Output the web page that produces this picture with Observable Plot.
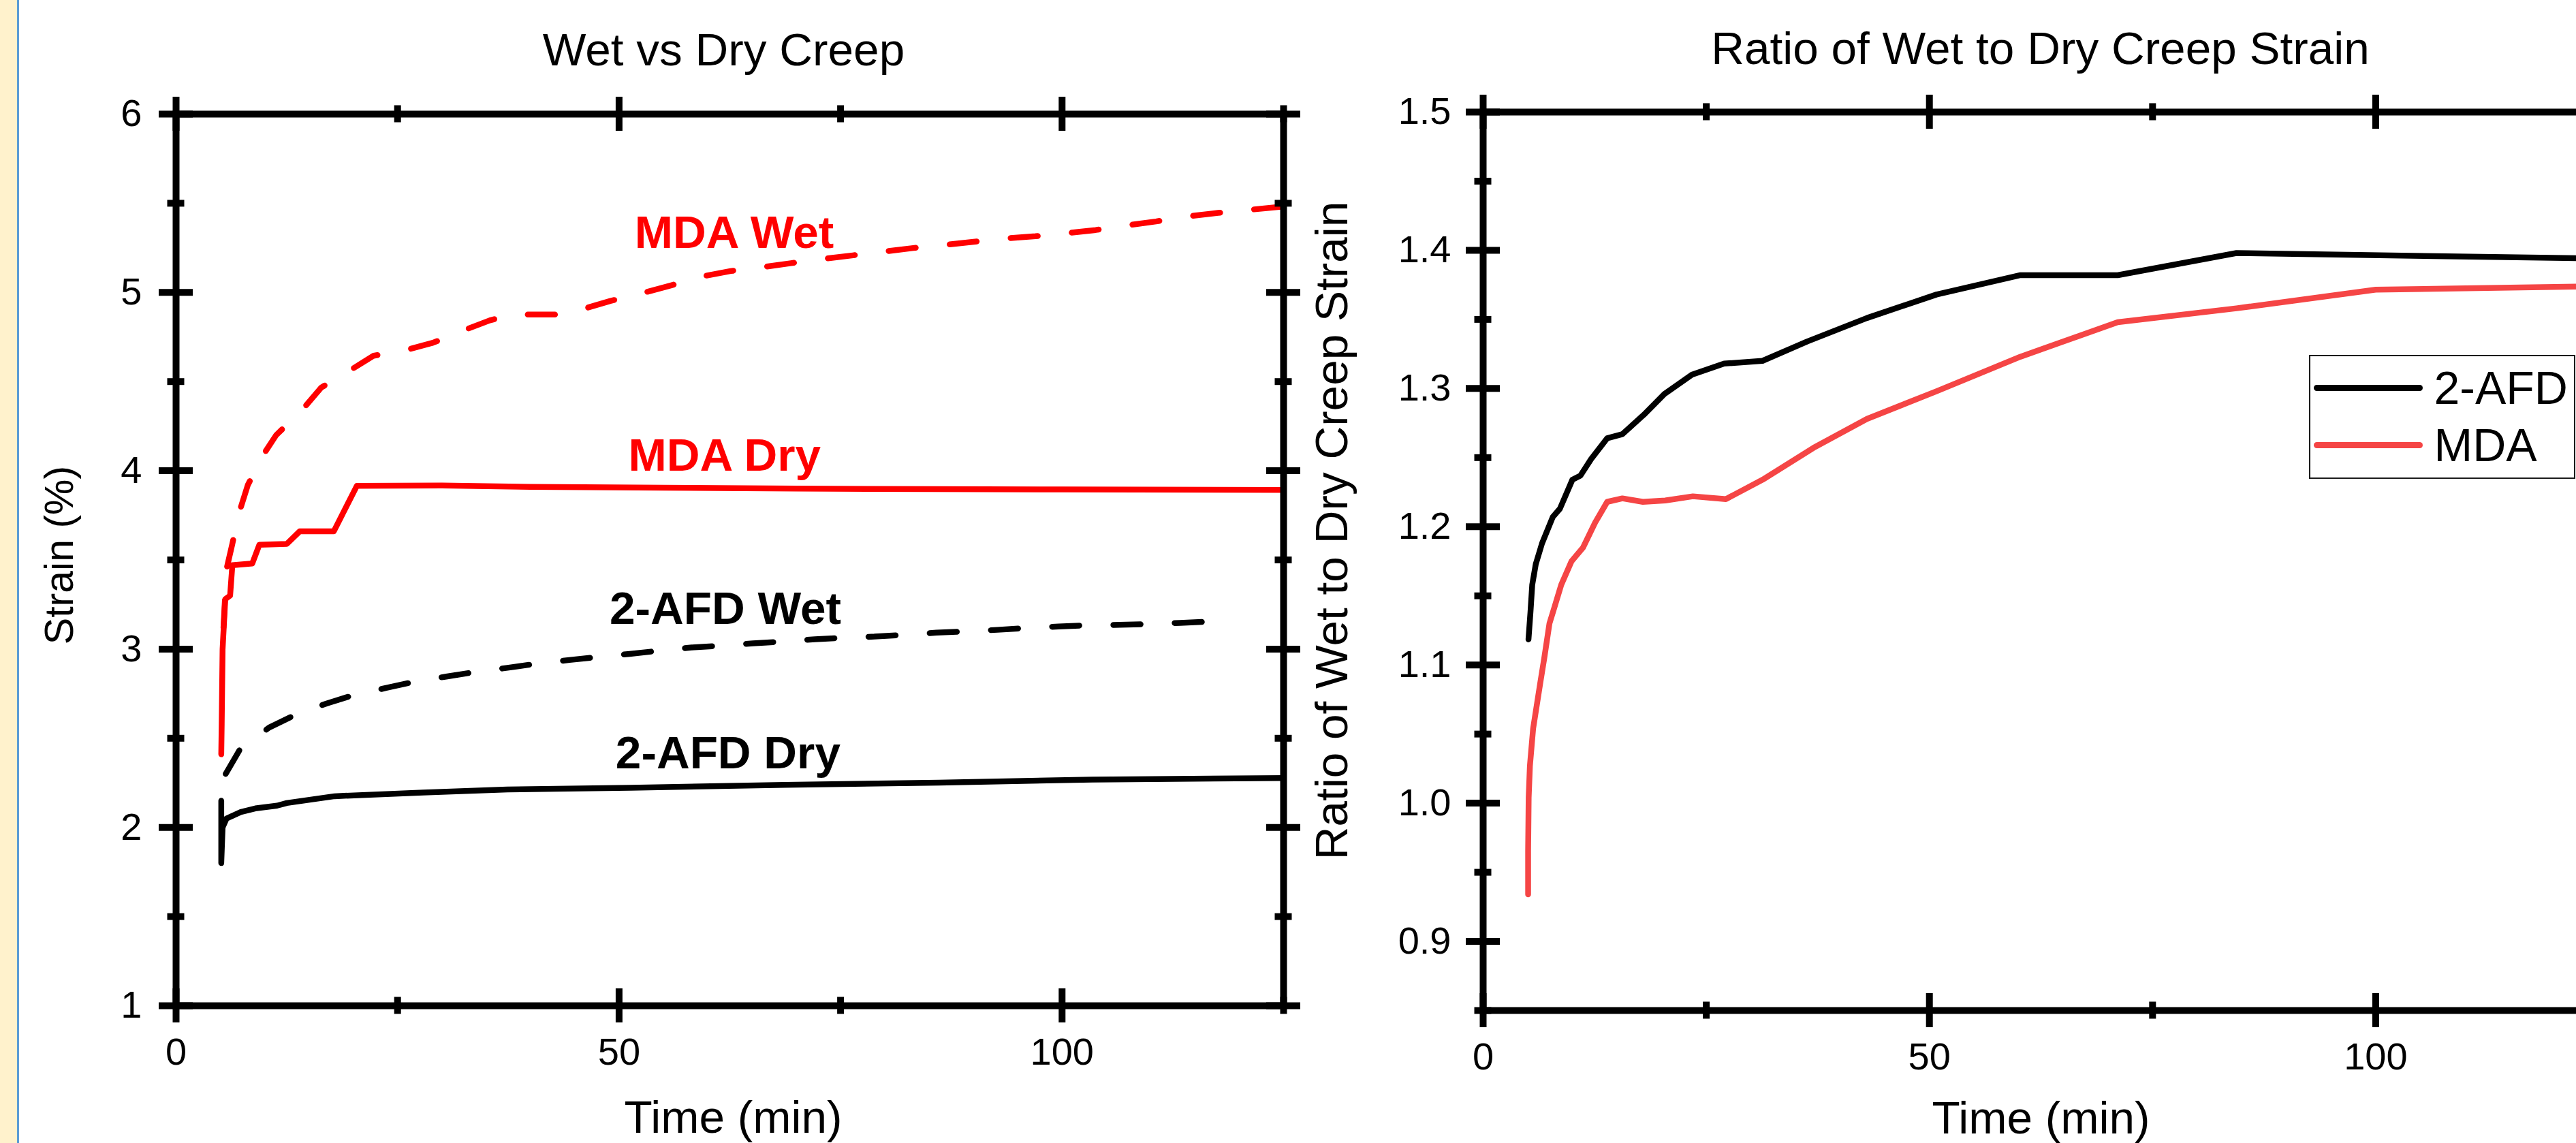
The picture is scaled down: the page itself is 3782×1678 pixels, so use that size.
<!DOCTYPE html>
<html>
<head>
<meta charset="utf-8">
<script src="https://cdn.jsdelivr.net/npm/d3@7"></script>
<script src="https://cdn.jsdelivr.net/npm/@observablehq/plot@0.6"></script>
<style>
  html, body { margin: 0; padding: 0; width: 3782px; height: 1678px; overflow: hidden; background: #ffffff; }
  body { position: relative; font-family: "Liberation Sans", Arial, sans-serif; }
  #strip { position: absolute; left: 0; top: 0; width: 25px; height: 1678px; background: #FFF2CC; z-index: 5; }
  #stripLine { position: absolute; left: 25px; top: 0; width: 3px; height: 1678px; background: #5B9BD5; z-index: 5; }
  #left { position: absolute; left: 0; top: 0; }
  #right { position: absolute; left: 1950px; top: 0; }
  #legend { position: absolute; left: 3390px; top: 521px; width: 391px; height: 182px; box-sizing: border-box;
            border: 2.5px solid #1a1a1a; background: #ffffff; z-index: 4; }
  .lg-line { position: absolute; width: 160px; height: 9px; border-radius: 4.5px; }
  .lg-text { position: absolute; font-size: 68px; line-height: 68px; color: #000; white-space: nowrap; }
</style>
</head>
<body>
<div id="strip"></div><div id="stripLine"></div>
<div id="left"></div>
<div id="right"></div>
<div id="legend"></div>
<script>
// ---------- axes / ticks ----------
const timeDomain = [0, 125];
const strainDomain = [1, 6];
const ratioDomain = [0.85, 1.5];
const timeTicksMajor = [0, 50, 100];
const timeTicksMinor = [25, 75, 125];
const strainTicksMajor = [1, 2, 3, 4, 5, 6];
const strainTicksMinor = [1.5, 2.5, 3.5, 4.5, 5.5];
const ratioTicksMajor = [0.9, 1.0, 1.1, 1.2, 1.3, 1.4, 1.5];
const ratioTicksMinor = [0.85, 0.95, 1.05, 1.15, 1.25, 1.35, 1.45];

const leftTitle = "Wet vs Dry Creep";
const rightTitle = "Ratio of Wet to Dry Creep Strain";
const xLabel = "Time (min)";
const leftYLabel = "Strain (%)";
const rightYLabel = "Ratio of Wet to Dry Creep Strain";

// ---------- left panel series (time, strain %) ----------
const mdaWetT = [5.35, 5.7, 6.35, 7.15, 8.1, 9.85, 11.3, 14.3, 16.4, 19.6, 22.3, 26.2, 29.0, 32.6, 35.4, 37.8, 43.5, 46.0, 49.0, 52.6, 55.9, 59.4, 62.6, 66.2, 69.4, 73.2, 76.4, 80.0, 83.2, 86.7, 90.0, 93.7, 97.0, 100.5, 103.8, 107.3, 110.6, 114.3, 117.6, 121.3, 125];
const mdaWetV = [3.12, 3.45, 3.59, 3.77, 3.92, 4.09, 4.20, 4.345, 4.467, 4.562, 4.645, 4.68, 4.718, 4.79, 4.843, 4.876, 4.876, 4.908, 4.952, 4.996, 5.04, 5.09, 5.12, 5.142, 5.164, 5.189, 5.208, 5.23, 5.249, 5.266, 5.284, 5.303, 5.315, 5.332, 5.35, 5.376, 5.398, 5.427, 5.446, 5.464, 5.482];

const mdaDryT = [5.1, 5.15, 5.25, 5.55, 6.1, 6.35, 8.6, 9.4, 12.5, 13.95, 17.8, 20.4, 30, 40, 55, 70, 85, 100, 125];
const mdaDryV = [2.41, 2.58, 3.0, 3.28, 3.30, 3.47, 3.48, 3.585, 3.59, 3.66, 3.66, 3.915, 3.917, 3.91, 3.905, 3.90, 3.897, 3.895, 3.892];

const afdWetT = [5.6, 7.2, 10.5, 13.4, 17.0, 20.1, 23.8, 26.9, 30.5, 33.7, 37.4, 40.4, 44.4, 47.4, 51.2, 54.2, 58.2, 61.2, 65.1, 68.1, 72.1, 75.1, 78.8, 81.8, 85.8, 88.8, 92.7, 95.7, 99.6, 102.6, 106.5, 109.5, 113.3, 116.3, 119.5];
const afdWetV = [2.30, 2.437, 2.56, 2.63, 2.695, 2.743, 2.783, 2.817, 2.846, 2.871, 2.895, 2.916, 2.939, 2.954, 2.973, 2.989, 3.009, 3.018, 3.032, 3.041, 3.055, 3.063, 3.07, 3.079, 3.092, 3.098, 3.108, 3.117, 3.127, 3.133, 3.136, 3.14, 3.147, 3.153, 3.158];

const afdDryT = [5.1, 5.1, 5.25, 5.7, 7.3, 9.1, 11.4, 12.5, 17.9, 27.9, 37.4, 51.3, 68.7, 86.1, 103.4, 125];
const afdDryV = [2.15, 1.80, 2.0, 2.05, 2.086, 2.108, 2.122, 2.137, 2.175, 2.196, 2.213, 2.222, 2.239, 2.251, 2.268, 2.277];

// in-plot labels (name, time, strain at baseline)
const labelNames = ["MDA Wet", "MDA Dry", "2-AFD Wet", "2-AFD Dry"];
const labelT = [63.0, 61.9, 62.0, 62.3];
const labelV = [5.25, 4.0, 3.14, 2.33];
const labelColors = ["#ff0000", "#ff0000", "#000000", "#000000"];

// ---------- right panel series (time, ratio) ----------
const ratioAfdT = [5.08, 5.3, 5.5, 5.9, 6.6, 7.8, 8.6, 10.0, 10.9, 12.1, 13.9, 15.6, 18.0, 20.3, 23.4, 27.0, 31.3, 36.3, 43.0, 50.8, 60.2, 71.1, 84.4, 125];
const ratioAfdV = [1.1185, 1.138, 1.158, 1.173, 1.188, 1.207, 1.213, 1.234, 1.237, 1.249, 1.264, 1.267, 1.281, 1.296, 1.310, 1.318, 1.320, 1.334, 1.351, 1.368, 1.382, 1.382, 1.398, 1.394];

const ratioMdaT = [5.04, 5.04, 5.1, 5.24, 5.6, 6.4, 6.85, 7.43, 8.0, 8.75, 9.9, 11.2, 12.55, 13.9, 15.6, 17.9, 20.4, 23.5, 27.2, 31.3, 37.0, 43.0, 50.8, 60.2, 71.1, 84.4, 100, 125];
const ratioMdaV = [0.934, 0.965, 1.004, 1.027, 1.054, 1.087, 1.105, 1.130, 1.142, 1.158, 1.175, 1.185, 1.203, 1.218, 1.2205, 1.218, 1.219, 1.222, 1.220, 1.234, 1.257, 1.278, 1.298, 1.323, 1.348, 1.358, 1.3715, 1.374];

const legendNames = ["2-AFD", "MDA"];
const legendColors = ["#000000", "#f54545"];

// ---------- helpers ----------
const zip = (T, V) => T.map((t, i) => ({t, v: V[i]}));
const FONT = '"Liberation Sans", Arial, sans-serif';

function boxTicks(xDom, yDom, xMaj, xMin, yMaj, yMin) {
  const sw = 10, major = 25, minor = 12.5;
  const marks = [];
  for (const yv of yDom) {
    marks.push(Plot.ruleX(xMaj, {x: d => d, y1: yv, y2: yv, insetTop: -major, insetBottom: -major, stroke: "black", strokeWidth: sw}));
    marks.push(Plot.ruleX(xMin, {x: d => d, y1: yv, y2: yv, insetTop: -minor, insetBottom: -minor, stroke: "black", strokeWidth: sw}));
  }
  for (const xv of xDom) {
    marks.push(Plot.ruleY(yMaj, {y: d => d, x1: xv, x2: xv, insetLeft: -major, insetRight: -major, stroke: "black", strokeWidth: sw}));
    marks.push(Plot.ruleY(yMin, {y: d => d, x1: xv, x2: xv, insetLeft: -minor, insetRight: -minor, stroke: "black", strokeWidth: sw}));
  }
  return marks;
}

const lineStyle = {x: "t", y: "v", strokeWidth: 8.5, strokeLinecap: "round", strokeLinejoin: "round"};
const dash = "40,50";

// ---------- left chart ----------
const left = Plot.plot({
  width: 1950, height: 1678,
  marginLeft: 258, marginRight: 66, marginTop: 167, marginBottom: 202,
  x: {domain: timeDomain},
  y: {domain: strainDomain},
  style: {background: "transparent", fontFamily: FONT, fontSize: "56px", color: "black", overflow: "visible", maxWidth: "none"},
  marks: [
    Plot.line(zip(afdDryT, afdDryV), {...lineStyle, stroke: "#000000"}),
    Plot.line(zip(afdWetT, afdWetV), {...lineStyle, stroke: "#000000", strokeDasharray: dash}),
    Plot.line(zip(mdaDryT, mdaDryV), {...lineStyle, stroke: "#ff0000"}),
    Plot.line(zip(mdaWetT, mdaWetV), {...lineStyle, stroke: "#ff0000", strokeDasharray: dash}),
    ...labelNames.map((n, i) => Plot.text([n], {x: () => labelT[i], y: () => labelV[i], text: d => d, fill: labelColors[i],
      fontWeight: "bold", fontSize: 67.5, textAnchor: "middle", lineAnchor: "bottom"})),
    Plot.frame({stroke: "black", strokeWidth: 10}),
    ...boxTicks(timeDomain, strainDomain, timeTicksMajor, timeTicksMinor, strainTicksMajor, strainTicksMinor),
    Plot.axisX(timeTicksMajor, {anchor: "bottom", tickSize: 0, tickPadding: 47, label: null, fontSize: 56, tickFormat: d3.format("d")}),
    Plot.axisY(strainTicksMajor, {anchor: "left", tickSize: 0, tickPadding: 50, label: null, fontSize: 56, tickFormat: d3.format("d")}),
    Plot.text([leftTitle], {text: d => d, frameAnchor: "top", dy: -72, dx: -9, textAnchor: "middle", lineAnchor: "bottom", fontSize: 67.5}),
    Plot.text([xLabel], {text: d => d, frameAnchor: "bottom", dy: 186, dx: 5, textAnchor: "middle", lineAnchor: "bottom", fontSize: 67.5}),
    Plot.text([leftYLabel], {text: d => d, frameAnchor: "left", rotate: -90, dx: -152, dy: -7, textAnchor: "middle", lineAnchor: "bottom", fontSize: 59})
  ]
});
document.getElementById("left").appendChild(left);

// ---------- right chart ----------
const right = Plot.plot({
  width: 1950, height: 1678,
  marginLeft: 227, marginRight: 85, marginTop: 164, marginBottom: 195,
  x: {domain: timeDomain},
  y: {domain: ratioDomain},
  style: {background: "transparent", fontFamily: FONT, fontSize: "56px", color: "black", overflow: "visible", maxWidth: "none"},
  marks: [
    Plot.line(zip(ratioMdaT, ratioMdaV), {...lineStyle, stroke: legendColors[1]}),
    Plot.line(zip(ratioAfdT, ratioAfdV), {...lineStyle, stroke: legendColors[0]}),
    Plot.frame({stroke: "black", strokeWidth: 10}),
    ...boxTicks(timeDomain, ratioDomain, timeTicksMajor, timeTicksMinor, ratioTicksMajor, ratioTicksMinor),
    Plot.axisX(timeTicksMajor, {anchor: "bottom", tickSize: 0, tickPadding: 47, label: null, fontSize: 56, tickFormat: d3.format("d")}),
    Plot.axisY(ratioTicksMajor, {anchor: "left", tickSize: 0, tickPadding: 47, label: null, fontSize: 56, tickFormat: d3.format(".1f")}),
    Plot.text([rightTitle], {text: d => d, frameAnchor: "top", dy: -71, dx: -1, textAnchor: "middle", lineAnchor: "bottom", fontSize: 67.5}),
    Plot.text([xLabel], {text: d => d, frameAnchor: "bottom", dy: 180, textAnchor: "middle", lineAnchor: "bottom", fontSize: 67.5}),
    Plot.text([rightYLabel], {text: d => d, frameAnchor: "left", rotate: -90, dx: -200, dy: -45, textAnchor: "middle", lineAnchor: "bottom", fontSize: 67.5})
  ]
});
document.getElementById("right").appendChild(right);

// ---------- legend (HTML overlay) ----------
const legend = document.getElementById("legend");
const lgBaselines = [593, 677];
const lgLineY = [570, 654];
legendNames.forEach((name, i) => {
  const ln = document.createElement("div");
  ln.className = "lg-line";
  ln.style.left = (3397 - 3390 - 2.5) + "px";
  ln.style.top = (lgLineY[i] - 4.5 - 521 - 2.5) + "px";
  ln.style.background = legendColors[i];
  legend.appendChild(ln);
  const tx = document.createElement("div");
  tx.className = "lg-text";
  tx.textContent = name;
  tx.style.left = (3574 - 3390 - 2.5) + "px";
  tx.style.top = (lgBaselines[i] - 0.8465 * 68 - 521 - 2.5) + "px";
  legend.appendChild(tx);
});
</script>
</body>
</html>
